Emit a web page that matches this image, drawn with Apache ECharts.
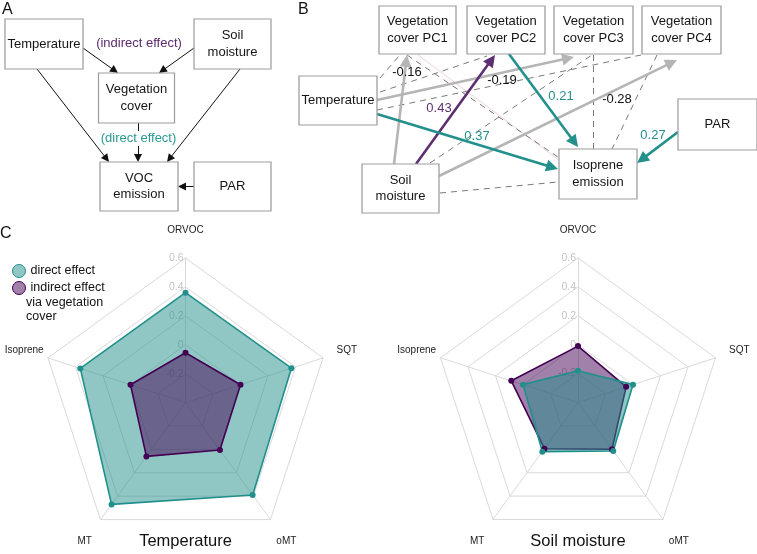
<!DOCTYPE html>
<html><head><meta charset="utf-8">
<script src="https://cdn.jsdelivr.net/npm/echarts@6/dist/echarts.min.js"></script>
<style>html,body{margin:0;padding:0;background:#fff}#c{width:757px;height:554px}</style>
</head><body><div id="c"></div>
<script>
// ================= DATA =================
// Panel C radar axes (ECharts lays indicators out counter-clockwise from the top)
const radarAxes = ['ORVOC', 'Isoprene', 'MT', 'oMT', 'SQT'];
const radarMin = -0.4, radarMax = 0.6;
const panelTitles = ['Temperature', 'Soil moisture'];
const seriesNames = ['direct effect', 'indirect effect'];
const legendExtra = 'via vegetation\ncover';
// effects on ORVOC, Isoprene, MT, oMT, SQT
const tempDirect   = [0.36, 0.365, 0.47, 0.39, 0.37];
const tempIndirect = [-0.055, 0.0, 0.06, 0.005, 0.0];
const soilDirect   = [-0.18, 0.0, 0.02, 0.015, 0.0];
const soilIndirect = [-0.01, 0.085, -0.005, 0.0, -0.05];

// Panel A: conceptual model
const nodesA = ['Temperature', 'Soil\nmoisture', 'Vegetation\ncover', 'VOC\nemission', 'PAR'];
const edgesA = [
  ['Temperature', 'Vegetation\ncover'],
  ['Soil\nmoisture', 'Vegetation\ncover'],
  ['Temperature', 'VOC\nemission'],
  ['Soil\nmoisture', 'VOC\nemission'],
  ['Vegetation\ncover', 'VOC\nemission'],
  ['PAR', 'VOC\nemission']
];
const notesA = ['(indirect effect)', '(direct effect)'];

// Panel B: fitted path model  [from, to, kind, coefficient]
const nodesB = ['PC1', 'PC2', 'PC3', 'PC4', 'Temp', 'Soil', 'Iso', 'PARB'];
const nodeTextB = ['Vegetation\ncover PC1', 'Vegetation\ncover PC2', 'Vegetation\ncover PC3', 'Vegetation\ncover PC4',
                   'Temperature', 'Soil\nmoisture', 'Isoprene\nemission', 'PAR'];
const edgesB = [
  ['Temp', 'PC1', 'dash', '-0.16'],
  ['Temp', 'PC2', 'dash', ''],
  ['Temp', 'PC4', 'dash', '-0.19'],
  ['Soil', 'PC3', 'dash', ''],
  ['PC1', 'Iso', 'dash', ''],
  ['PC3', 'Iso', 'dash', ''],
  ['PC4', 'Iso', 'dash', '-0.28'],
  ['Soil', 'Iso', 'dash', ''],
  ['PC1', 'Iso', 'faint', ''],
  ['Soil', 'PC1', 'gray', ''],
  ['Temp', 'PC3', 'gray', ''],
  ['Soil', 'PC4', 'gray', ''],
  ['Soil', 'PC2', 'purple', '0.43'],
  ['Temp', 'Iso', 'teal', '0.37'],
  ['PC2', 'Iso', 'teal', '0.21'],
  ['PARB', 'Iso', 'teal', '0.27']
];

// ================= LAYOUT / STYLE =================
const TEAL = '#21908C', PURPLE = '#440154';
const FONT = 'Liberation Sans, Arial, Helvetica, sans-serif';
const boxA = {
  'Temperature': [44, 44, 78, 50], 'Soil\nmoisture': [232.5, 44, 77, 50],
  'Vegetation\ncover': [136.5, 98, 76, 50], 'VOC\nemission': [139, 186.5, 78, 49], 'PAR': [232.5, 186.5, 77, 49]
};
const endsA = {
  'Temperature>Vegetation\ncover': [[83, 48], [118, 73]],
  'Soil\nmoisture>Vegetation\ncover': [[194, 48], [159, 73]],
  'Temperature>VOC\nemission': [[37, 69], [109, 162]],
  'Soil\nmoisture>VOC\nemission': [[240, 69], [167, 162]],
  'Vegetation\ncover>VOC\nemission': [[138, 123], [138, 162]],
  'PAR>VOC\nemission': [[194, 186.5], [178, 186.5]]
};
const notePosA = [[139, 43, '#5c2a6e'], [138.5, 138.5, '#2a9a93']];
const boxB = {
  PC1: [417.5, 30, 77, 48], PC2: [506, 30, 78, 48], PC3: [593.5, 30, 79, 48], PC4: [681.5, 30, 79, 48],
  Temp: [338, 100.5, 78, 49], Soil: [400.5, 188.5, 77, 49], Iso: [598, 174, 78, 50], PARB: [717.5, 124.5, 79, 51]
};
const endsB = {
  'Temp>PC1': [[380, 78], [399, 56]],
  'Temp>PC2': [[380, 92], [487, 56]],
  'Temp>PC4': [[377, 110], [641, 55]],
  'Soil>PC3': [[430, 163], [592, 55]],
  'PC1>Iso|dash': [[407, 55], [558, 157]],
  'PC1>Iso|faint': [[418, 55], [559, 160]],
  'PC3>Iso': [[593, 55], [593, 149]],
  'PC4>Iso': [[657, 55], [612, 149]],
  'Soil>Iso': [[440, 193], [558, 182]],
  'Soil>PC1': [[394, 164], [407, 55]],
  'Temp>PC3': [[377, 100], [574, 57]],
  'Soil>PC4': [[439, 176], [677, 60]],
  'Soil>PC2': [[416, 164], [495, 55]],
  'Temp>Iso': [[377, 114], [558, 169]],
  'PC2>Iso': [[509, 54], [578, 147]],
  'PARB>Iso': [[678, 132], [637, 163]]
};
const labelPosB = {
  'Temp>PC1': [407, 72], 'Temp>PC4': [502, 80], 'PC4>Iso': [617, 99],
  'Soil>PC2': [439, 108], 'Temp>Iso': [477, 136], 'PC2>Iso': [561, 96], 'PARB>Iso': [653, 135]
};
const kinds = {
  gray:   {color: '#b5b5b5', width: 2.6, arrow: 12, text: '#111'},
  purple: {color: '#5d2f72', width: 2.6, arrow: 12, text: '#5d2f72'},
  teal:   {color: '#23908b', width: 2.6, arrow: 12, text: '#23918b'},
  dash:   {color: '#7a7a7a', width: 1, type: [6, 5], arrow: 0, text: '#111'},
  faint:  {color: '#ecc8cc', width: 0.8, arrow: 0, text: '#111'},
  black:  {color: '#111', width: 1, arrow: 8, text: '#111'}
};
const radarCenters = [[185.5, 402.6], [578, 402.5]];
const radarR = 144.6;

function pullBack(c, s) {
  if (!s) return c;
  const [a, b] = c; const dx = b[0] - a[0], dy = b[1] - a[1]; const L = Math.hypot(dx, dy);
  return [a, [b[0] - dx / L * s / 2, b[1] - dy / L * s / 2]];
}

// ================= BUILD =================
const series = [];
function lineSeries(name, list, kindName) {
  const k = kinds[kindName];
  series.push({
    type: 'lines', name, coordinateSystem: 'cartesian2d', silent: true, z: 2,
    symbol: k.arrow ? ['none', 'triangle'] : ['none', 'none'], symbolSize: k.arrow || 1,
    lineStyle: {color: k.color, width: k.width, type: k.type || 'solid', opacity: 1, curveness: 0},
    data: list.map(c => ({coords: pullBack(c, k.arrow)}))
  });
}
lineSeries('edgesA', edgesA.map(e => endsA[e[0] + '>' + e[1]]), 'black');
['faint', 'dash', 'gray', 'purple', 'teal'].forEach(kn => {
  const list = edgesB.filter(e => e[2] === kn).map(e => {
    const key = e[0] + '>' + e[1];
    return endsB[key + '|' + kn] || endsB[key];
  });
  lineSeries('edgesB_' + kn, list, kn);
});

function nodeSeries(name, ids, texts, boxes) {
  series.push({
    type: 'scatter', name, silent: true, z: 3, symbol: 'rect',
    itemStyle: {color: '#fff', borderColor: '#9d9d9d', borderWidth: 1, opacity: 1},
    label: {show: true, position: 'inside', color: '#151515', fontSize: 13, lineHeight: 16.5, fontFamily: FONT,
            textBorderWidth: 0, formatter: p => p.data.text},
    data: ids.map((id, i) => ({value: [boxes[id][0], boxes[id][1]], symbolSize: [boxes[id][2], boxes[id][3]], text: texts[i]}))
  });
}
nodeSeries('nodesA', nodesA, nodesA, boxA);
nodeSeries('nodesB', nodesB, nodeTextB, boxB);

// coefficient and note labels
const labelData = [];
edgesB.forEach(e => {
  if (!e[3]) return;
  const p = labelPosB[e[0] + '>' + e[1]];
  labelData.push({value: p, text: e[3], label: {color: kinds[e[2]].text}});
});
notesA.forEach((t, i) => {
  labelData.push({value: [notePosA[i][0], notePosA[i][1]], text: t,
    label: {color: notePosA[i][2], backgroundColor: i === 1 ? '#fff' : 'transparent', padding: [1, 1]}});
});
series.push({
  type: 'scatter', name: 'labels', silent: true, z: 4, symbolSize: 1,
  itemStyle: {color: 'rgba(255,255,255,0)', opacity: 1},
  label: {show: true, position: 'inside', fontSize: 13, fontFamily: FONT, textBorderWidth: 0, opacity: 1,
          formatter: p => p.data.text},
  data: labelData
});

// radar series
function radarItem(name, vals, color) {
  return {
    name, value: vals, symbol: 'circle', symbolSize: 6,
    itemStyle: {color}, lineStyle: {color, width: 1.6},
    areaStyle: {color, opacity: 0.5}
  };
}
series.push({type: 'radar', radarIndex: 0, silent: true, z: 2,
  data: [radarItem(seriesNames[0], tempDirect, TEAL), radarItem(seriesNames[1], tempIndirect, PURPLE)]});
series.push({type: 'radar', radarIndex: 1, silent: true, z: 2,
  data: [radarItem(seriesNames[1], soilIndirect, PURPLE), radarItem(seriesNames[0], soilDirect, TEAL)]});

function makeRadar(ci) {
  return {
    center: radarCenters[ci], radius: radarR, startAngle: 90, shape: 'polygon', splitNumber: 5,
    axisName: {show: false},
    splitLine: {lineStyle: {color: '#dadada', width: 1}},
    splitArea: {show: false},
    axisLine: {lineStyle: {color: '#dadada', width: 1}},
    axisTick: {show: false},
    axisLabel: {show: false},
    indicator: radarAxes.map((n, i) => {
      const ind = {name: n, min: radarMin, max: radarMax};
      if (i === 0) ind.axisLabel = {show: true, color: '#c4c4c4', fontSize: 10.5, fontFamily: FONT, margin: 2,
        formatter: v => (v < radarMin + 0.05 ? '' : String(Math.round(v * 10) / 10))};
      return ind;
    })
  };
}

// graphic texts: panel letters, axis names, titles, legend continuation
const graphic = [];
function txt(x, y, text, size, color, align) {
  graphic.push({type: 'text', x, y, silent: true, z: 10,
    style: {text, fill: color || '#111', font: size + 'px ' + FONT, textAlign: align || 'center', textVerticalAlign: 'middle'}});
}
txt(2, 10, 'A', 16, '#111', 'left');
txt(298, 10, 'B', 16, '#111', 'left');
txt(0, 234, 'C', 16, '#111', 'left');
const nameGap = [28, 25, 27, 27, 25];
radarCenters.forEach((c, ci) => {
  radarAxes.forEach((n, i) => {
    const ang = Math.PI / 2 + i * 2 * Math.PI / radarAxes.length;
    const r = radarR + nameGap[i];
    txt(c[0] + r * Math.cos(ang), c[1] - r * Math.sin(ang), n, 10, '#222', 'center');
  });
  txt(c[0], 541, panelTitles[ci], 16.5, '#111', 'center');
});
graphic.push({type: 'text', x: 26, y: 295, silent: true, z: 10,
  style: {text: legendExtra, fill: '#111', font: '12.5px ' + FONT, textAlign: 'left', textVerticalAlign: 'top', lineHeight: 14.3}});

const option = {
  animation: false,
  backgroundColor: '#fff',
  grid: {left: 0, right: 0, top: 0, bottom: 0, show: false},
  xAxis: {type: 'value', min: 0, max: 757, show: false},
  yAxis: {type: 'value', min: 0, max: 554, inverse: true, show: false},
  radar: [makeRadar(0), makeRadar(1)],
  legend: {
    left: 7, top: 259, orient: 'vertical', icon: 'circle', itemWidth: 13, itemHeight: 13, itemGap: 3,
    selectedMode: false,
    textStyle: {fontSize: 12.5, color: '#111', fontFamily: FONT, lineHeight: 14},
    data: [
      {name: seriesNames[0], itemStyle: {color: 'rgba(33,144,140,0.5)', borderColor: TEAL, borderWidth: 1}},
      {name: seriesNames[1], itemStyle: {color: 'rgba(68,1,84,0.5)', borderColor: PURPLE, borderWidth: 1}}
    ]
  },
  graphic,
  series
};
const chart = echarts.init(document.getElementById('c'));
chart.setOption(option);
</script>
</body></html>
